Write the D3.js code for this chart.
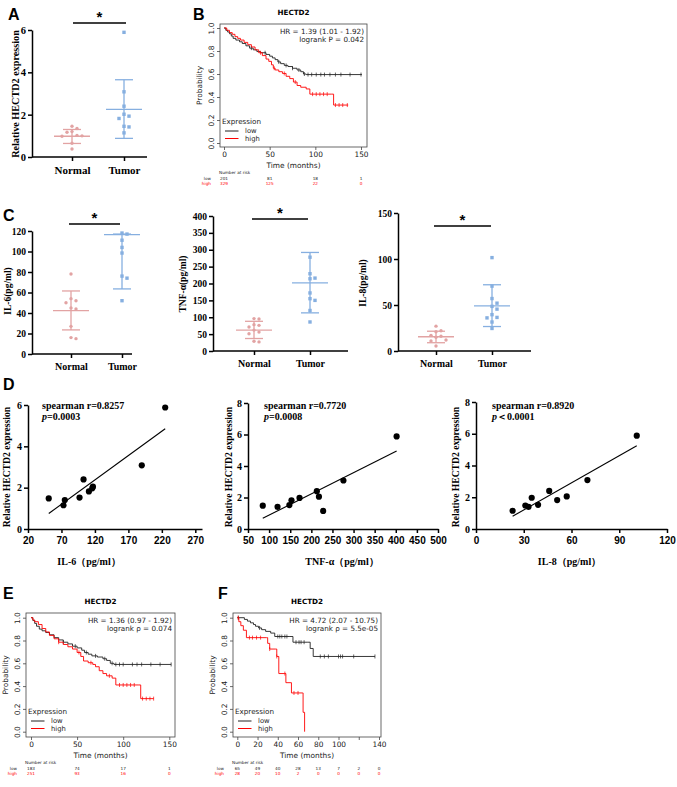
<!DOCTYPE html>
<html><head><meta charset="utf-8">
<script src="https://cdn.jsdelivr.net/npm/d3@7"></script>
<style>body{margin:0;background:#fff} svg{display:block}</style>
</head><body><svg id="c" width="677" height="787"></svg>
<script>
// ---------------- DATA ----------------
const groups = ["Normal", "Tumor"];
// Panel A: relative HECTD2 expression
const hectd2Normal = [1.45, 1.35, 1.2, 1.17, 1.02, 1.0, 0.98, 0.65, 0.38];
const hectd2Tumor  = [5.89, 3.08, 2.4, 2.02, 1.93, 1.82, 1.45, 1.42, 1.14];
const hectd2Summary = [[0.98, 0.64, 1.3], [2.25, 0.88, 3.65]]; // mean, lower, upper
// Panel C: cytokines
const il6Normal = [78, 54, 52, 50, 45, 44, 27, 16, 15];
const il6Tumor  = [118, 117, 111, 104, 98.5, 76, 74, 52];
const il6Summary = [[42.4, 23.5, 61.5], [116.5, 63.5, 117]];
const tnfNormal = [96, 95, 78, 76, 71, 62, 56, 51, 29, 27];
const tnfTumor  = [278, 229, 216, 214, 172, 155, 150, 120, 86];
const tnfSummary = [[62, 37, 88], [202, 113, 292]];
const il8Normal = [27, 22, 21, 17, 16, 15, 12, 11, 5.5];
const il8Tumor  = [101.5, 70.5, 57, 52, 48.5, 45.5, 39.5, 36.5, 36, 31.5, 24.5];
const il8Summary = [[15.5, 9, 21.5], [49, 26.6, 72]];
// Panel D: correlations
const hectd2Paired = [5.88, 3.08, 2.4, 2.05, 1.97, 1.82, 1.52, 1.48, 1.4, 1.15];
const il6Paired = [225, 190, 103, 117, 116, 111, 97, 51, 75, 73];
const tnfPaired = [402, 276, 213, 218, 172, 153, 148, 85, 120, 228];
const il8Paired = [101, 70, 46, 57, 35, 51, 39, 31, 33, 23];
const fitIL6 = [[51, 0.75], [225, 4.85]];
const fitTNF = [[85, 0.68], [402, 4.95]];
const fitIL8 = [[23, 0.8], [101, 5.25]];
const corrR = ["spearman r=0.8257", "spearman r=0.7720", "spearman r=0.8920"];
const corrP = ["=0.0003", "=0.0008", "＜0.0001"];
// KM curves [time, survival]
const kmB_low = [[0,1],[2,0.98],[4,0.965],[6,0.95],[8,0.93],[10,0.91],[13,0.895],[17,0.88],[20,0.865],[24,0.845],[28,0.825],[32,0.81],[36,0.795],[40,0.785],[46,0.77],[50,0.755],[53,0.74],[56,0.725],[59,0.705],[62,0.69],[66,0.675],[70,0.665],[75,0.65],[80,0.635],[84,0.62],[87,0.6],[90,0.595],[151,0.595]];
const kmB_high = [[0,1],[3,0.98],[6,0.96],[9,0.945],[12,0.925],[15,0.91],[18,0.895],[22,0.875],[26,0.855],[30,0.835],[34,0.81],[38,0.785],[42,0.76],[46,0.73],[49,0.71],[52,0.68],[54,0.65],[56,0.635],[60,0.62],[64,0.605],[68,0.58],[72,0.56],[76,0.53],[80,0.5],[84,0.485],[90,0.47],[94,0.425],[118,0.425],[120,0.33],[136,0.33]];
const censB_low = [30,45,60,68,75,82,88,92,96,101,106,110,116,122,128,138,150];
const censB_high = [40,55,66,78,97,101,105,109,113,122,126,130,135];
const kmE_low = [[0,1],[2,0.975],[4,0.95],[6,0.925],[9,0.9],[12,0.885],[16,0.87],[20,0.85],[25,0.825],[30,0.805],[35,0.785],[40,0.77],[45,0.75],[50,0.735],[55,0.715],[58,0.695],[62,0.68],[66,0.665],[72,0.655],[78,0.64],[82,0.625],[86,0.6],[90,0.59],[152,0.59]];
const kmE_high = [[0,1],[2,0.98],[4,0.965],[8,0.94],[12,0.905],[16,0.875],[20,0.845],[25,0.815],[30,0.785],[35,0.765],[40,0.745],[45,0.725],[50,0.695],[54,0.66],[57,0.62],[62,0.605],[67,0.59],[70,0.57],[74,0.535],[78,0.51],[82,0.49],[88,0.47],[92,0.41],[117,0.41],[119,0.29],[133,0.29]];
const censE_low = [35,48,60,70,80,88,92,96,100,110,115,120,130,140,152];
const censE_high = [30,52,65,85,96,100,104,108,112,121,125,129,133];
const kmF_low = [[0,1],[7,0.985],[10,0.97],[13,0.955],[16,0.94],[18,0.925],[21,0.91],[24,0.895],[28,0.88],[33,0.865],[37,0.835],[52,0.835],[55,0.785],[69,0.785],[72,0.73],[75,0.66],[136,0.66]];
const kmF_high = [[0,1],[1.5,0.965],[3.5,0.93],[6,0.89],[9,0.825],[29,0.825],[30,0.775],[32,0.725],[38,0.725],[39,0.66],[41,0.51],[47,0.51],[48,0.43],[53,0.43],[53.5,0.34],[64.5,0.34],[65,0.17],[66.5,0.17],[66.5,0]];
const censF_low = [1,22,40,42,44,47,49,58,61,63,66,82,86,90,100,102,104,115,136];
const censF_high = [1,12,15,19,23,32,39,47,56,60];
const riskB = {t:[0,50,100,150], low:[201,81,18,1], high:[329,125,22,0]};
const riskE = {t:[0,50,100,150], low:[183,74,17,1], high:[251,93,16,0]};
const riskF = {t:[0,20,40,60,80,100,120,140], low:[65,49,40,28,13,7,2,0], high:[28,20,10,2,0,0,0,0]};
const hrB = ["HR = 1.39 (1.01 - 1.92)", "logrank P = 0.042"];
const hrE = ["HR = 1.36 (0.97 - 1.92)", "logrank ρ = 0.074"];
const hrF = ["HR = 4.72 (2.07 - 10.75)", "logrank ρ = 5.5e-05"];

// ---------------- DRAWING ----------------
const svg = d3.select('#c');
const SERIF = "'Liberation Serif','Times New Roman',serif";
const SANS = "'Liberation Sans',Arial,sans-serif";
const DV = "'DejaVu Sans',sans-serif";
const PINK = "#e2a3a3", BLUE = "#86afe0";

function letter(t, x, y) {
  svg.append('text').attr('x', x).attr('y', y).text(t)
    .attr('font-family', SANS).attr('font-weight', 'bold').attr('font-size', 16);
}
function styleAxis(g, fam, size, sw) {
  g.attr('font-family', fam).attr('font-size', size).attr('font-weight', 'bold');
  g.selectAll('line,path').attr('stroke', '#000').attr('stroke-width', sw);
  g.selectAll('text').attr('fill', '#000');
}
function swarm(vals, y, cx, d) {
  const pts = vals.map(v => ({v, y: y(v)})).sort((a, b) => a.y - b.y);
  const placed = [];
  for (const p of pts) {
    const offs = [0, d, -d, 2*d, -2*d, 3*d, -3*d];
    for (const o of offs) {
      if (placed.every(q => Math.hypot(q.x - (cx + o), q.y - p.y) >= d * 0.95)) { p.x = cx + o; break; }
    }
    if (p.x === undefined) p.x = cx;
    placed.push(p);
  }
  return placed;
}

function dotPanel(o) {
  const y = d3.scaleLinear().domain(o.yd).range([o.y0, o.y1]);
  const x = d3.scalePoint().domain(groups).range(o.cx);
  const gy = svg.append('g').attr('transform', `translate(${o.ax},0)`)
    .call(d3.axisLeft(y).tickValues(o.yt).tickFormat(d3.format('d')).tickSize(4).tickSizeOuter(0).tickPadding(2));
  styleAxis(gy, SERIF, o.fs, 1.5);
  const gx = svg.append('g').attr('transform', `translate(0,${o.y0})`)
    .call(d3.axisBottom(x).tickSize(4).tickPadding(5));
  gx.select('.domain').remove();
  styleAxis(gx, SERIF, o.fs + 0.5, 1.5);
  svg.append('line').attr('x1', o.ax).attr('x2', o.xEnd).attr('y1', o.y0).attr('y2', o.y0)
    .attr('stroke', '#000').attr('stroke-width', 1.5);
  svg.append('text').attr('transform', `translate(${o.ylx},${o.yly}) rotate(-90)`)
    .attr('text-anchor', 'middle').attr('font-family', SERIF).attr('font-weight', 'bold')
    .attr('font-size', o.lfs).text(o.ylabel);
  const cols = [PINK, BLUE];
  o.data.forEach((vals, i) => {
    const cx = x(groups[i]);
    const s = o.stats[i];
    const g = svg.append('g').attr('stroke', cols[i]).attr('stroke-width', 1.3);
    g.append('line').attr('x1', cx).attr('x2', cx).attr('y1', y(s[1])).attr('y2', y(s[2]));
    [s[1], s[2]].forEach(v => g.append('line').attr('x1', cx - 9).attr('x2', cx + 9).attr('y1', y(v)).attr('y2', y(v)));
    g.append('line').attr('x1', cx - 18).attr('x2', cx + 18).attr('y1', y(s[0])).attr('y2', y(s[0]));
    const pts = swarm(vals, y, cx, 5);
    if (i === 0) {
      svg.append('g').selectAll('circle').data(pts).join('circle')
        .attr('cx', d => d.x).attr('cy', d => d.y).attr('r', 1.7).attr('fill', cols[i]);
    } else {
      svg.append('g').selectAll('rect').data(pts).join('rect')
        .attr('x', d => d.x - 1.7).attr('y', d => d.y - 1.7).attr('width', 3.4).attr('height', 3.4).attr('fill', cols[i]);
    }
  });
  svg.append('line').attr('x1', o.sig[0]).attr('x2', o.sig[1]).attr('y1', o.sig[2]).attr('y2', o.sig[2])
    .attr('stroke', '#000').attr('stroke-width', 1.5);
  svg.append('text').attr('x', (o.sig[0] + o.sig[1]) / 2).attr('y', o.sig[2] - 1)
    .attr('text-anchor', 'middle').attr('font-family', SANS).attr('font-weight', 'bold')
    .attr('font-size', 15).text('*');
}

function corrPanel(o) {
  const x = d3.scaleLinear().domain(o.xd).range(o.xr);
  const y = d3.scaleLinear().domain(o.yd).range([529, o.ytop]);
  const gy = svg.append('g').attr('transform', `translate(${o.xr[0]},0)`)
    .call(d3.axisLeft(y).tickValues(o.yt).tickFormat(d3.format('d')).tickSize(4).tickSizeOuter(0).tickPadding(2));
  styleAxis(gy, SERIF, 10, 1.5);
  const gx = svg.append('g').attr('transform', `translate(0,529)`)
    .call(d3.axisBottom(x).tickValues(o.xt).tickFormat(d3.format('d')).tickSize(4).tickSizeOuter(0).tickPadding(4));
  styleAxis(gx, SANS, 10, 1.5);
  svg.append('text').attr('transform', `translate(${o.ylx},467) rotate(-90)`)
    .attr('text-anchor', 'middle').attr('font-family', SERIF).attr('font-weight', 'bold')
    .attr('font-size', 9.6).text('Relative HECTD2 expression');
  svg.append('text').attr('x', (o.xr[0] + o.xr[1]) / 2 + o.xlOff).attr('y', 565)
    .attr('text-anchor', 'middle').attr('font-family', SERIF).attr('font-weight', 'bold')
    .attr('font-size', 10).text(o.xlabel);
  svg.append('line').attr('x1', x(o.fit[0][0])).attr('y1', y(o.fit[0][1]))
    .attr('x2', x(o.fit[1][0])).attr('y2', y(o.fit[1][1])).attr('stroke', '#000').attr('stroke-width', 1.1);
  svg.append('g').selectAll('circle').data(o.xs).join('circle')
    .attr('cx', d => x(d)).attr('cy', (d, i) => y(hectd2Paired[i])).attr('r', 3.1).attr('fill', '#000');
  const t = svg.append('g').attr('font-family', SERIF).attr('font-weight', 'bold').attr('font-size', 10);
  t.append('text').attr('x', o.tx).attr('y', 409).text(o.r);
  const p = t.append('text').attr('x', o.tx).attr('y', 420);
  p.append('tspan').attr('font-style', 'italic').text('p');
  p.append('tspan').text(o.p);
}

function stepAt(data, t) {
  let v = data[0][1];
  for (const d of data) { if (d[0] <= t) v = d[1]; else break; }
  return v;
}
function km(o) {
  const [L, T, R, B] = o.box;
  const x = d3.scaleLinear().domain(o.xd).range(o.xr);
  const y = d3.scaleLinear().domain([0, 1]).range(o.yr);
  const g = svg.append('g');
  g.append('rect').attr('x', L).attr('y', T).attr('width', R - L).attr('height', B - T)
    .attr('fill', 'none').attr('stroke', '#444').attr('stroke-width', 0.8);
  const gx = g.append('g').attr('transform', `translate(0,${B})`)
    .call(d3.axisBottom(x).tickValues(o.xt).tickSize(3).tickPadding(2)
      .tickFormat(d => o.xl.includes(d) ? d : ''));
  gx.select('.domain').remove();
  gx.attr('font-family', DV).attr('font-size', 7.4);
  gx.selectAll('line').attr('stroke', '#444').attr('stroke-width', 0.8);
  gx.selectAll('text').attr('fill', '#222');
  const gy = g.append('g').attr('transform', `translate(${L},0)`)
    .call(d3.axisLeft(y).tickValues([0, 0.2, 0.4, 0.6, 0.8, 1.0]).tickSize(3).tickFormat(d3.format('.1f')));
  gy.select('.domain').remove();
  gy.attr('font-family', DV).attr('font-size', 7.4);
  gy.selectAll('line').attr('stroke', '#444').attr('stroke-width', 0.8);
  gy.selectAll('text').attr('fill', '#222').attr('transform', 'rotate(-90)')
    .attr('x', 0).attr('y', -6).attr('dy', 0).attr('text-anchor', 'middle');
  g.append('text').attr('transform', `translate(${L - 18},${(T + B) / 2}) rotate(-90)`)
    .attr('text-anchor', 'middle').attr('font-family', DV).attr('font-size', 7.4).attr('fill', '#222').text('Probability');
  g.append('text').attr('x', (L + R) / 2).attr('y', B + 21).attr('text-anchor', 'middle')
    .attr('font-family', DV).attr('font-size', 7.4).attr('fill', '#222').text('Time (months)');
  g.append('text').attr('x', (L + R) / 2).attr('y', T - 9).attr('text-anchor', 'middle')
    .attr('font-family', DV).attr('font-weight', 'bold').attr('font-size', 7.2).text('HECTD2');
  const line = d3.line().x(d => x(d[0])).y(d => y(d[1])).curve(d3.curveStepAfter);
  const series = [[o.low, o.cLow, '#222'], [o.high, o.cHigh, '#ff0000']];
  series.forEach(([data, cens, col]) => {
    g.append('path').attr('d', line(data)).attr('fill', 'none').attr('stroke', col).attr('stroke-width', 0.9);
    g.append('g').selectAll('line').data(cens).join('line')
      .attr('x1', d => x(d)).attr('x2', d => x(d))
      .attr('y1', d => y(stepAt(data, d)) - 2).attr('y2', d => y(stepAt(data, d)) + 2)
      .attr('stroke', col).attr('stroke-width', 0.7);
  });
  const ht = g.append('g').attr('font-family', DV).attr('font-size', 7.2).attr('fill', '#222').attr('text-anchor', 'end');
  ht.append('text').attr('x', R - 3).attr('y', T + 9.5).text(o.hr[0]);
  ht.append('text').attr('x', R - 3).attr('y', T + 18).text(o.hr[1]);
  const lg = g.append('g').attr('font-family', DV).attr('font-size', 6.8).attr('fill', '#222');
  lg.append('text').attr('x', L + 2).attr('y', B - 23.5).attr('font-size', 7.2).text('Expression');
  [['low', '#222', B - 16], ['high', '#ff0000', B - 8.5]].forEach(([t, c, yy]) => {
    lg.append('line').attr('x1', L + 5).attr('x2', L + 18.5).attr('y1', yy).attr('y2', yy).attr('stroke', c).attr('stroke-width', 1);
    lg.append('text').attr('x', L + 25).attr('y', yy + 2.4).text(t);
  });
  const rk = g.append('g').attr('font-family', DV).attr('font-size', 4.2);
  rk.append('text').attr('x', L - 1).attr('y', B + 26.5).attr('fill', '#222').text('Number at risk');
  [['low', o.risk.low, '#222', B + 32.5], ['high', o.risk.high, '#ff0000', B + 37.5]].forEach(([lab, vals, c, yy]) => {
    rk.append('text').attr('x', L - 9).attr('y', yy).attr('text-anchor', 'end').attr('fill', c).text(lab);
    o.risk.t.forEach((t, i) => rk.append('text').attr('x', x(t)).attr('y', yy).attr('text-anchor', 'middle').attr('fill', c).text(vals[i]));
  });
}

// ---- Panel letters
letter('A', 8, 20); letter('B', 193, 20); letter('C', 3, 221);
letter('D', 3, 390); letter('E', 3, 599); letter('F', 218, 599);

// ---- Panel A
dotPanel({ax: 32, y0: 157, y1: 30, yd: [0, 6], yt: [0, 2, 4, 6], cx: [72, 124], xEnd: 147,
  data: [hectd2Normal, hectd2Tumor], stats: hectd2Summary, fs: 10.5, lfs: 10.2,
  ylabel: 'Relative HECTD2 expression', ylx: 18.5, yly: 94, sig: [73, 126, 23]});

// ---- Panel C
dotPanel({ax: 32, y0: 354, y1: 231, yd: [0, 120], yt: [0, 20, 40, 60, 80, 100, 120], cx: [71, 122], xEnd: 132,
  data: [il6Normal, il6Tumor], stats: il6Summary, fs: 9.5, lfs: 9.5,
  ylabel: 'IL-6(pg/ml)', ylx: 10.5, yly: 291, sig: [69, 120, 224]});
dotPanel({ax: 213, y0: 351, y1: 216, yd: [0, 400], yt: d3.range(0, 401, 50), cx: [254, 310], xEnd: 348,
  data: [tnfNormal, tnfTumor], stats: tnfSummary, fs: 9.5, lfs: 9.5,
  ylabel: 'TNF-α(pg/ml)', ylx: 186, yly: 284, sig: [252, 308, 219]});
dotPanel({ax: 398, y0: 351, y1: 213, yd: [0, 150], yt: [0, 50, 100, 150], cx: [436, 492], xEnd: 531,
  data: [il8Normal, il8Tumor], stats: il8Summary, fs: 9.5, lfs: 9.5,
  ylabel: 'IL-8(pg/ml)', ylx: 365.5, yly: 283, sig: [434, 491, 226]});

// ---- Panel D
corrPanel({xd: [20, 280], xr: [28, 202], yd: [0, 6], ytop: 405, yt: [0, 2, 4, 6], xt: d3.range(20, 271, 50),
  xs: il6Paired, fit: fitIL6, r: corrR[0], p: corrP[0], tx: 42, ylx: 9.5, xlabel: 'IL-6（pg/ml）', xlOff: -26});
corrPanel({xd: [50, 500], xr: [248, 438], yd: [0, 8], ytop: 403, yt: [0, 2, 4, 6, 8], xt: d3.range(50, 501, 50),
  xs: tnfPaired, fit: fitTNF, r: corrR[1], p: corrP[1], tx: 264, ylx: 231.5, xlabel: 'TNF-α（pg/ml）', xlOff: -1});
corrPanel({xd: [0, 120], xr: [476, 667], yd: [0, 8], ytop: 402, yt: [0, 2, 4, 6, 8], xt: d3.range(0, 121, 30),
  xs: il8Paired, fit: fitIL8, r: corrR[2], p: corrP[2], tx: 492, ylx: 458.5, xlabel: 'IL-8（pg/ml）', xlOff: -2});

// ---- KM panels
km({box: [220, 24, 367, 147], xd: [0, 150], xr: [224, 361], yr: [143, 28], xt: [0, 50, 100, 150], xl: [0, 50, 100, 150],
  low: kmB_low, high: kmB_high, cLow: censB_low, cHigh: censB_high, risk: riskB, hr: hrB});
km({box: [26, 613, 175, 737], xd: [0, 150], xr: [31, 169.3], yr: [731.7, 617.7], xt: [0, 50, 100, 150], xl: [0, 50, 100, 150],
  low: kmE_low, high: kmE_high, cLow: censE_low, cHigh: censE_high, risk: riskE, hr: hrE});
km({box: [233, 613, 381, 737], xd: [0, 140], xr: [237.3, 379], yr: [731.7, 617.7], xt: d3.range(0, 141, 20), xl: [0, 20, 40, 60, 80, 100, 140],
  low: kmF_low, high: kmF_high, cLow: censF_low, cHigh: censF_high, risk: riskF, hr: hrF});
</script></body></html>
